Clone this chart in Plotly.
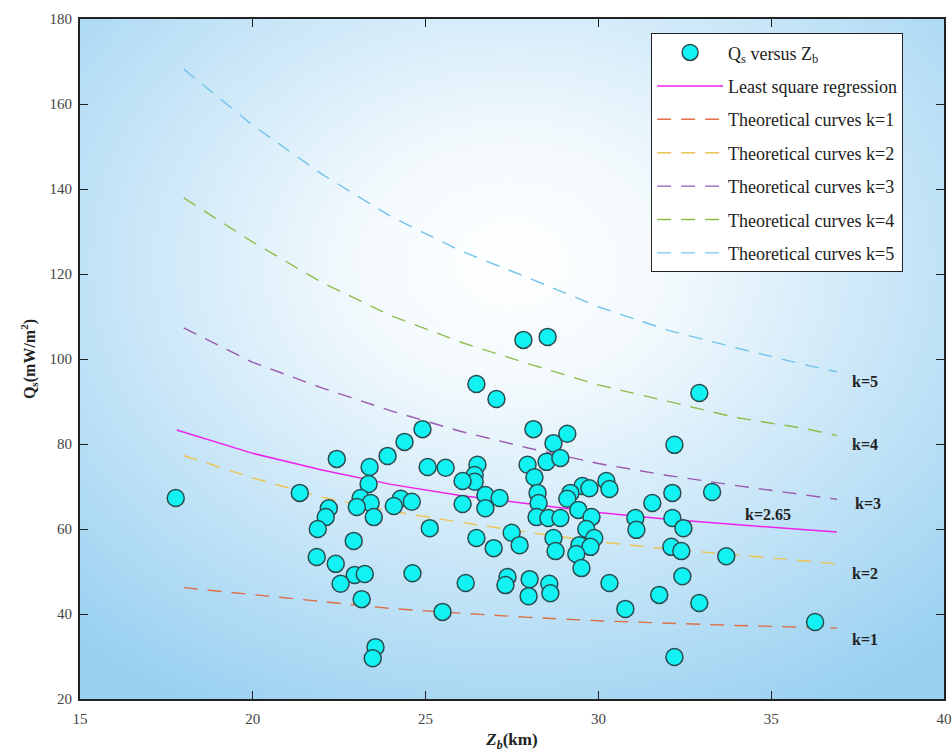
import base64
import plotly.graph_objects as go

# ---------------- data ----------------
zb = [24.91, 24.39, 23.90, 22.43, 23.38, 25.06, 23.35, 21.36, 23.12, 23.41,
      23.01, 23.50, 22.20, 22.11, 21.88, 24.28, 24.60, 24.08, 25.12, 22.92,
      21.85, 22.40, 22.95, 23.24, 22.54, 24.62, 23.15, 23.55, 23.47, 17.77,
      27.83, 28.53, 26.47, 27.05, 28.12, 28.70, 28.50, 27.95, 28.15, 25.58,
      26.50, 26.42, 26.42, 26.07, 26.73, 27.14, 26.73, 26.07, 28.24, 28.27,
      28.21, 28.55, 26.47, 26.97, 27.49, 27.72, 28.70, 28.76, 26.16, 27.37,
      27.31, 28.01, 27.98, 28.58, 28.61, 25.49, 32.92, 32.20, 29.10, 28.90,
      29.54, 29.74, 29.19, 29.10, 30.23, 30.32, 29.42, 29.80, 28.90, 31.56,
      32.14, 31.07, 31.10, 32.14, 32.46, 29.65, 29.88, 29.45, 29.77, 29.36,
      29.51, 32.11, 32.40, 30.32, 32.43, 31.76, 30.78, 32.92, 33.29, 33.70,
      36.27, 32.20]
qs = [83.5, 80.5, 77.2, 76.5, 74.6, 74.6, 70.6, 68.5, 67.3, 66.1,
      65.2, 62.8, 64.9, 62.8, 60.0, 67.1, 66.4, 65.4, 60.2, 57.2,
      53.4, 51.8, 49.2, 49.4, 47.1, 49.6, 43.5, 32.2, 29.6, 67.3,
      104.5, 105.2, 94.1, 90.6, 83.5, 80.2, 75.8, 75.1, 72.2, 74.4,
      75.1, 72.7, 71.1, 71.3, 68.0, 67.3, 64.9, 65.9, 68.5, 66.1,
      62.8, 62.6, 57.9, 55.5, 59.1, 56.2, 57.9, 54.8, 47.3, 48.7,
      46.8, 48.2, 44.2, 47.1, 44.9, 40.5, 92.0, 79.8, 82.4, 76.7,
      70.1, 69.6, 68.5, 67.1, 71.3, 69.4, 64.5, 62.8, 62.6, 66.1,
      68.5, 62.6, 59.8, 62.6, 60.2, 60.0, 57.9, 56.2, 55.8, 54.1,
      50.8, 55.8, 54.8, 47.3, 48.9, 44.5, 41.2, 42.6, 68.7, 53.6,
      38.1, 29.9]

reg_z = [17.8, 20, 22, 24, 26, 28, 30, 32, 34, 36, 36.9]
reg_q = [83.3, 77.8, 73.9, 70.5, 67.9, 65.9, 63.9, 62.3, 61.0, 59.8, 59.3]

curve_z = [18, 20, 22, 24, 26, 28, 30, 32, 34, 36, 36.9]
curve_k1 = [46.2, 44.6, 42.9, 41.3, 40.2, 39.2, 38.4, 37.8, 37.3, 36.9, 36.7]
curve_k2 = [77.3, 72.0, 67.5, 64.2, 61.6, 59.2, 57.0, 55.3, 53.9, 52.5, 51.8]
curve_k3 = [107.3, 99.2, 93.2, 87.8, 83.0, 79.0, 75.4, 72.6, 70.2, 68.1, 67.0]
curve_k4 = [137.9, 127.5, 118.0, 110.2, 104.0, 98.8, 93.9, 90.1, 86.2, 83.6, 82.0]
curve_k5 = [168.2, 155.0, 143.5, 133.5, 125.5, 119.0, 112.3, 106.8, 102.6, 98.6, 97.0]

curve_names = ["Theoretical curves k=1", "Theoretical curves k=2",
               "Theoretical curves k=3", "Theoretical curves k=4",
               "Theoretical curves k=5"]
curve_colors = ["#dc7048", "#eec352", "#9b58b0", "#8fbd4c", "#72c3ea"]

label_text = ["k=5", "k=4", "k=3", "k=2.65", "k=2", "k=1"]
label_x = [37.7, 37.7, 37.8, 34.9, 37.7, 37.7]
label_y = [94.8, 79.8, 65.9, 63.5, 49.6, 33.9]

SERIF = "Liberation Serif, Times New Roman, serif"

fig = go.Figure()

curves = [curve_k1, curve_k2, curve_k3, curve_k4, curve_k5]
for i, (vals, name, col) in enumerate(zip(curves, curve_names, curve_colors)):
    fig.add_trace(go.Scatter(
        x=curve_z, y=vals, mode="lines", name=name,
        line=dict(color=col, width=1.4, dash="14px,10px"),
        legendrank=3 + i, legendgroup="g%d" % (3 + i)))

fig.add_trace(go.Scatter(
    x=reg_z, y=reg_q, mode="lines", name="Least square regression",
    line=dict(color="#ee22ee", width=1.5), legendrank=2,
    legendgroup="g2"))

fig.add_trace(go.Scatter(
    x=zb, y=qs, mode="markers", name="Q<sub>s</sub> versus Z<sub>b</sub>",
    marker=dict(size=17, color="#12f2f2",
                line=dict(color="#2a4c50", width=1.5)),
    legendrank=1, legendgroup="g1"))

for t, x, y in zip(label_text, label_x, label_y):
    fig.add_annotation(x=x, y=y, text="<b>%s</b>" % t, showarrow=False,
                       font=dict(family=SERIF, size=16, color="#222"))

svg = ("<svg xmlns='http://www.w3.org/2000/svg' width='865' height='680' "
       "viewBox='0 0 865 680' preserveAspectRatio='none'><defs>"
       "<radialGradient id='g' cx='0.5' cy='0.36' r='0.75'>"
       "<stop offset='0' stop-color='#ffffff'/>"
       "<stop offset='0.25' stop-color='#f2f9fd'/>"
       "<stop offset='1' stop-color='#98d0f1'/>"
       "</radialGradient></defs>"
       "<rect width='865' height='680' fill='url(#g)'/></svg>")
src = "data:image/svg+xml;base64," + base64.b64encode(svg.encode()).decode()

fig.update_layout(
    width=952, height=752,
    margin=dict(l=80, r=8, t=19, b=53, autoexpand=False),
    paper_bgcolor="white", plot_bgcolor="rgba(0,0,0,0)",
    font=dict(family=SERIF, size=15, color="#333"),
    images=[dict(source=src, xref="paper", yref="paper", x=0, y=1,
                 sizex=1, sizey=1, xanchor="left", yanchor="top",
                 sizing="stretch", layer="below")],
    showlegend=True,
    legend=dict(x=0.661, y=0.979, xanchor="left", yanchor="top",
                bgcolor="white", bordercolor="#222", borderwidth=1,
                font=dict(family=SERIF, size=18, color="#222"),
                itemwidth=66, tracegroupgap=7, traceorder="grouped"),
)

fig.update_xaxes(range=[15, 40], dtick=5, tick0=15, ticks="inside", ticklen=8,
                 tickwidth=1.2, tickcolor="#222", showline=True,
                 linecolor="#222", linewidth=2, mirror="ticks",
                 showgrid=False, zeroline=False, ticklabelstandoff=5,
                 ticklabeloverflow="allow",
                 tickfont=dict(family=SERIF, size=15, color="#444"),
                 title=dict(text="<b><i>Z<sub>b</sub></i>(km)</b>",
                            font=dict(family=SERIF, size=17, color="#222"),
                            standoff=8))
fig.update_yaxes(range=[20, 180], dtick=20, tick0=20, ticks="inside", ticklen=8,
                 tickwidth=1.2, tickcolor="#222", showline=True,
                 linecolor="#222", linewidth=2, mirror="ticks",
                 showgrid=False, zeroline=False, ticklabelstandoff=3,
                 ticklabeloverflow="allow",
                 tickfont=dict(family=SERIF, size=15, color="#444"),
                 title=dict(text="<b>Q<sub>s</sub>(mW/m<sup>2</sup>)</b>",
                            font=dict(family=SERIF, size=16, color="#222"),
                            standoff=10))

fig.write_html("out.html",
               config={"displayModeBar": False},
               post_script="document.body.style.margin='0';"
                           "document.body.style.overflow='hidden';")
